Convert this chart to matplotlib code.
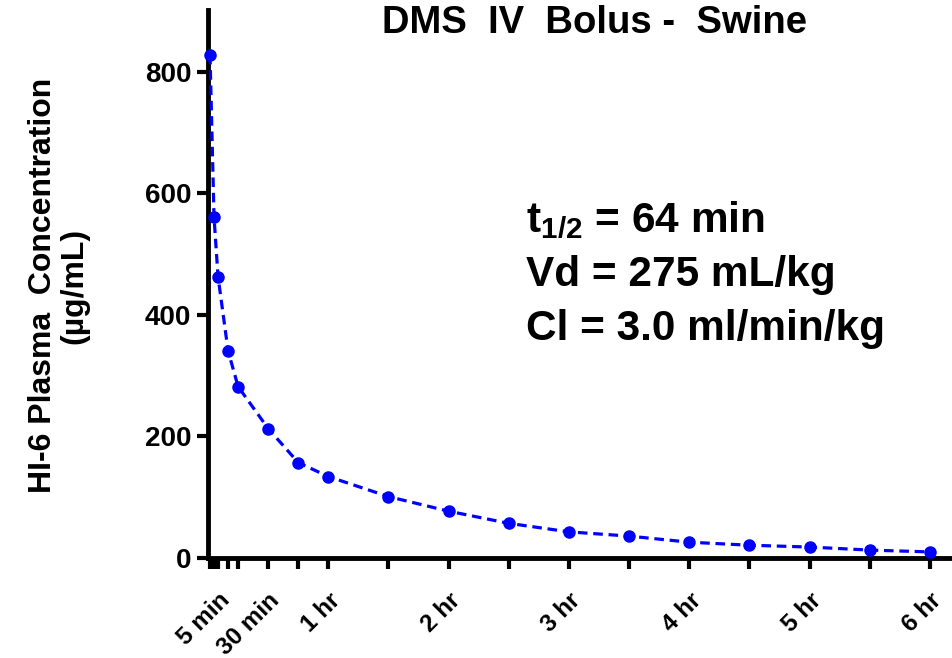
import matplotlib
matplotlib.use('Agg')
from matplotlib import pyplot as plt

plt.rcParams['font.family'] = ['Liberation Sans', 'DejaVu Sans']
plt.rcParams['font.weight'] = 'bold'
plt.rcParams['mathtext.fontset'] = 'custom'
plt.rcParams['mathtext.rm'] = 'Liberation Sans:bold'
plt.rcParams['mathtext.bf'] = 'Liberation Sans:bold'
plt.rcParams['mathtext.it'] = 'Liberation Sans:bold'

# sampling times (min) and HI-6 plasma concentration (ug/mL)
times = [1, 3, 5, 10, 15, 30, 45, 60, 90, 120, 150, 180, 210, 240, 270, 300, 330, 360]
conc = [828, 561, 463, 341, 282, 213, 157, 134, 101, 77, 57, 43, 36, 26, 21, 18, 13, 10]

tick_labels = ['', '', '5 min', '', '', '30 min', '', '1 hr', '', '2 hr', '',
               '3 hr', '', '4 hr', '', '5 hr', '', '6 hr']
y_ticks = [0, 200, 400, 600, 800]

fig = plt.figure(figsize=(9.52, 6.58), dpi=100)
ax = fig.add_axes([0.2185, 0.152, 0.7815, 0.833])

ax.plot(times, conc, color='#0000FF', linestyle='--', dashes=(3, 1.8),
        linewidth=2.3, marker='o', markersize=8, clip_on=False, zorder=3)

ax.set_xlim(0, 371)
ax.set_ylim(0, 902)
ax.set_yticks(y_ticks)
ax.set_xticks(times)
ax.set_xticklabels(tick_labels, rotation=45, ha='right', va='top',
                   rotation_mode='anchor', fontsize=17.5, fontweight='bold')
ax.tick_params(axis='y', labelsize=20, width=3, length=8, pad=4)
ax.tick_params(axis='x', width=3, length=8, pad=14)

for s in ['top', 'right']:
    ax.spines[s].set_visible(False)
for s in ['left', 'bottom']:
    ax.spines[s].set_linewidth(3.5)

ax.set_ylabel('HI-6 Plasma  Concentration\n(µg/mL)', fontsize=23,
              fontweight='bold', linespacing=1.05)
ax.yaxis.set_label_coords(-0.16, 0.497)

fig.text(0.624, 0.965, 'DMS  IV  Bolus -  Swine', ha='center', va='center',
         fontsize=27.5, fontweight='bold')

stats = ['$\\mathbf{t_{1/2}}$ = 64 min', 'Vd = 275 mL/kg', 'Cl = 3.0 ml/min/kg']
for i, s in enumerate(stats):
    ax.text(0.428, 0.595 - i * 0.0985, s, transform=ax.transAxes, fontsize=30.5,
            fontweight='bold', va='baseline', ha='left')

fig.savefig('out.png', dpi=100)
